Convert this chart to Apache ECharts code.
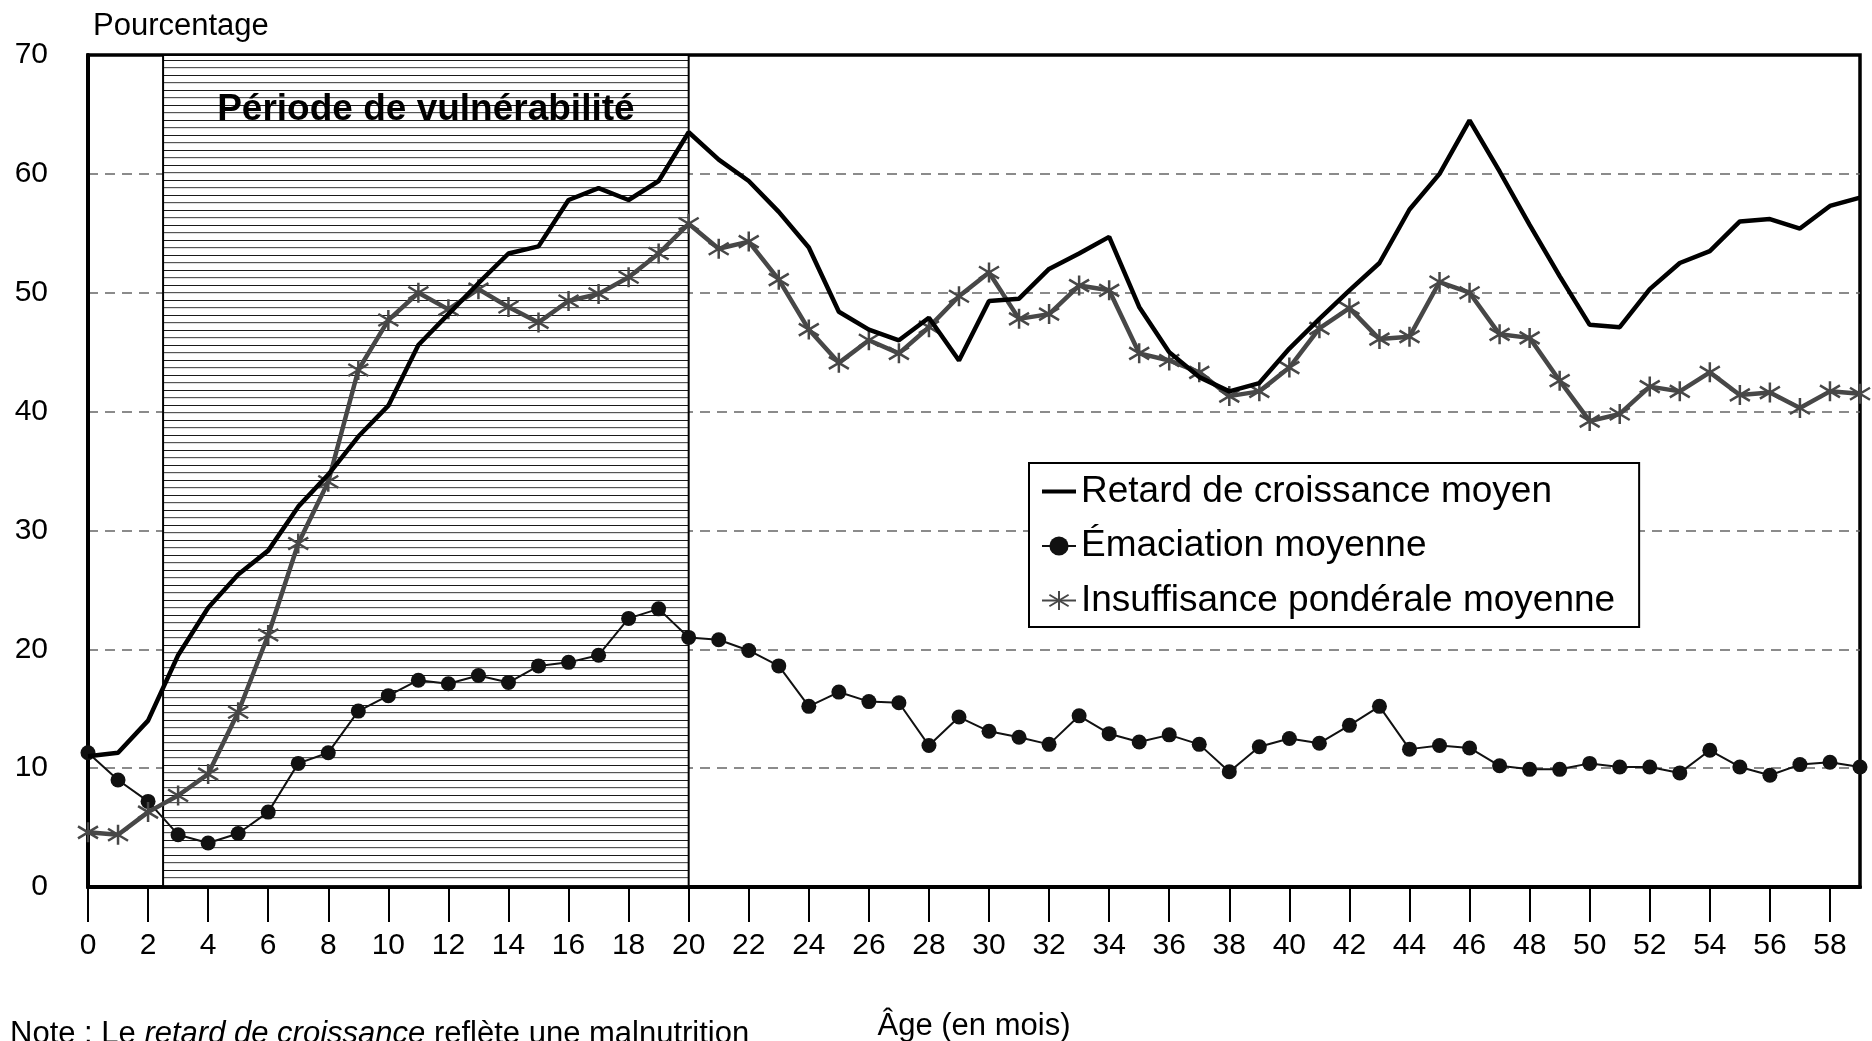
<!DOCTYPE html>
<html>
<head>
<meta charset="utf-8">
<script src="https://cdn.jsdelivr.net/npm/echarts@6/dist/echarts.min.js"></script>
<style>
  html, body { margin: 0; padding: 0; background: #fff; }
  #chart { width: 1872px; height: 1041px; }
</style>
</head>
<body>
<div id="chart"></div>
<script>
var months = ["0", "1", "2", "3", "4", "5", "6", "7", "8", "9",
  "10", "11", "12", "13", "14", "15", "16", "17", "18", "19",
  "20", "21", "22", "23", "24", "25", "26", "27", "28", "29",
  "30", "31", "32", "33", "34", "35", "36", "37", "38", "39",
  "40", "41", "42", "43", "44", "45", "46", "47", "48", "49",
  "50", "51", "52", "53", "54", "55", "56", "57", "58", "59"];

var retard = [11.0, 11.3, 14.0, 19.5, 23.5, 26.3, 28.3, 32.0, 34.7, 37.9,
  40.5, 45.6, 48.2, 50.8, 53.3, 53.9, 57.8, 58.8, 57.8, 59.4,
  63.5, 61.2, 59.4, 56.8, 53.8, 48.4, 46.9, 46.0, 47.9, 44.3,
  49.3, 49.5, 52.0, 53.3, 54.7, 48.8, 45.0, 42.9, 41.7, 42.4,
  45.3, 47.8, 50.2, 52.5, 57.0, 60.0, 64.5, 60.2, 55.7, 51.4,
  47.3, 47.1, 50.3, 52.5, 53.5, 56.0, 56.2, 55.4, 57.3, 58.0];

var emaciation = [11.3, 9.0, 7.2, 4.4, 3.7, 4.5, 6.3, 10.4, 11.3, 14.8,
  16.1, 17.4, 17.1, 17.8, 17.2, 18.6, 18.9, 19.5, 22.6, 23.4,
  21.0, 20.8, 19.9, 18.6, 15.2, 16.4, 15.6, 15.5, 11.9, 14.3,
  13.1, 12.6, 12.0, 14.4, 12.9, 12.2, 12.8, 12.0, 9.7, 11.8,
  12.5, 12.1, 13.6, 15.2, 11.6, 11.9, 11.7, 10.2, 9.9, 9.9,
  10.4, 10.1, 10.1, 9.6, 11.5, 10.1, 9.4, 10.3, 10.5, 10.1];

var insuffisance = [4.6, 4.4, 6.3, 7.7, 9.5, 14.7, 21.2, 28.9, 34.1, 43.5,
  47.7, 50.0, 48.6, 50.3, 48.8, 47.5, 49.3, 49.9, 51.3, 53.3,
  55.8, 53.7, 54.3, 51.1, 46.9, 44.1, 46.0, 44.9, 47.1, 49.7,
  51.7, 47.8, 48.2, 50.6, 50.2, 44.9, 44.3, 43.3, 41.3, 41.7,
  43.7, 47.0, 48.7, 46.1, 46.3, 50.9, 50.0, 46.5, 46.2, 42.6,
  39.2, 39.8, 42.1, 41.7, 43.3, 41.4, 41.6, 40.3, 41.7, 41.5];

var periodStart = 2.5;
var periodEnd = 20;

var FONT = "Liberation Sans, Arial, sans-serif";

// hatch pattern for the vulnerable period
var hatch = document.createElement("canvas");
hatch.width = 8;
hatch.height = 15;
var hctx = hatch.getContext("2d");
hctx.fillStyle = "#fff";
hctx.fillRect(0, 0, 8, 15);
hctx.fillStyle = "#1a1a1a";
hctx.fillRect(0, 0, 8, 1);
hctx.fillStyle = "#555";
hctx.fillRect(0, 7, 8, 1.2);

var starPath = "path://M10,0L10,20M1,4L19,16M1,16L19,4";
// plain line icon (outer moveTo points keep the box size)
var lineIcon = "path://M0,0M0,10L34,10L34,14L0,14ZM34,24";

var myChart = echarts.init(document.getElementById("chart"));

var option = {
  animation: false,
  textStyle: { fontFamily: FONT, color: "#000" },
  grid: {
    left: 88,
    right: 12,
    top: 55,
    bottom: 154,
    outerBoundsMode: "none",
    containLabel: false,
    show: true,
    borderColor: "#000",
    borderWidth: 3.5,
  },
  legend: {
    data: [
      { name: "Retard de croissance moyen", icon: lineIcon },
      "Émaciation moyenne",
      "Insuffisance pondérale moyenne",
    ],
    orient: "vertical",
    left: 1029,
    top: 463,
    backgroundColor: "#fff",
    borderColor: "#000",
    borderWidth: 2,
    padding: [10, 24, 8, 12],
    itemGap: 17.5,
    itemWidth: 34,
    itemHeight: 24,
    itemTextGap: 4,
    textStyle: { fontSize: 37, color: "#000", fontFamily: FONT },
  },
  xAxis: [
    {
      type: "category",
      data: months,
      boundaryGap: false,
      name: "Âge (en mois)",
      nameLocation: "middle",
      nameGap: 124,
      nameTextStyle: { fontSize: 31, color: "#000" },
      axisLine: { lineStyle: { color: "#000", width: 4 } },
      axisTick: { interval: 1, length: 35, lineStyle: { color: "#000", width: 2 } },
      axisLabel: { interval: 1, fontSize: 30, color: "#000", margin: 44 },
      splitLine: { show: false },
    },
    {
      type: "value",
      min: 0,
      max: 59,
      show: false,
    },
  ],
  yAxis: {
    type: "value",
    min: 0,
    max: 70,
    interval: 10,
    name: "Pourcentage",
    nameLocation: "end",
    nameGap: 13,
    nameTextStyle: { fontSize: 31, color: "#000", align: "left", padding: [0, 0, 0, 5] },
    axisLine: { show: true, lineStyle: { color: "#000", width: 4 } },
    axisTick: { show: false },
    axisLabel: { fontSize: 30, color: "#000", margin: 40 },
    splitLine: {
      showMinLine: false,
      showMaxLine: false,
      lineStyle: { color: "#666", width: 1.5, type: [10, 7] },
    },
  },
  series: [
    {
      name: "periode",
      type: "line",
      xAxisIndex: 1,
      data: [],
      silent: true,
      z: 1,
      markArea: {
        silent: true,
        itemStyle: {
          color: { image: hatch, repeat: "repeat" },
          borderColor: "#000",
          borderWidth: 2,
        },
        label: {
          show: true,
          position: "insideTop",
          distance: 37,
          fontSize: 37,
          fontWeight: "bold",
          color: "#000",
          fontFamily: FONT,
        },
        data: [[{ name: "Période de vulnérabilité", xAxis: periodStart }, { xAxis: periodEnd }]],
      },
    },
    {
      name: "Émaciation moyenne",
      type: "line",
      data: emaciation,
      symbol: "circle",
      symbolSize: 15,
      showAllSymbol: true,
      color: "#111",
      lineStyle: { color: "#111", width: 2 },
      itemStyle: { color: "#111" },
      z: 3,
    },
    {
      name: "Insuffisance pondérale moyenne",
      type: "line",
      data: insuffisance,
      symbol: starPath,
      symbolSize: 20,
      showAllSymbol: true,
      color: "#474747",
      lineStyle: { color: "#474747", width: 4.5 },
      itemStyle: { color: "#474747", borderColor: "#474747", borderWidth: 2.5 },
      z: 4,
    },
    {
      name: "Retard de croissance moyen",
      type: "line",
      data: retard,
      showSymbol: false,
      symbol: "none",
      color: "#000",
      lineStyle: { color: "#000", width: 4.5 },
      z: 5,
    },
  ],
  graphic: [
    {
      type: "text",
      left: 10,
      top: 1019,
      style: {
        text: "{n|Note : Le }{i|retard de croissance}{n| reflète une malnutrition}",
        rich: {
          n: { fontSize: 31, fontFamily: FONT, fill: "#000" },
          i: { fontSize: 31, fontFamily: FONT, fontStyle: "italic", fill: "#000" },
        },
      },
    },
  ],
};

myChart.setOption(option);
</script>
</body>
</html>
